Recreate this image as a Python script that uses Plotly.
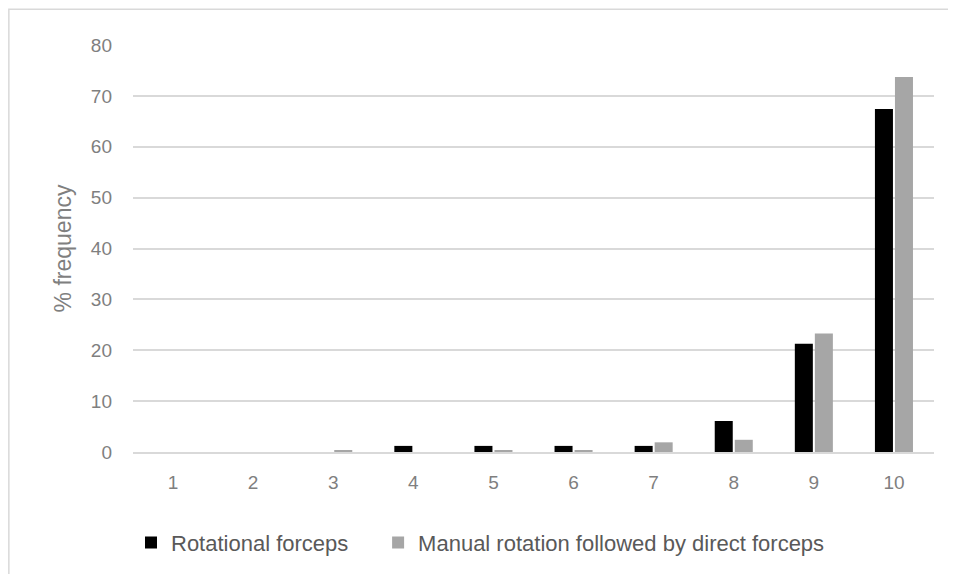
import plotly.graph_objects as go

categories = ["1", "2", "3", "4", "5", "6", "7", "8", "9", "10"]
rotational = [0, 0, 0, 1.2, 1.2, 1.2, 1.2, 6.1, 21.3, 67.4]
manual = [0, 0, 0.4, 0, 0.4, 0.4, 1.9, 2.4, 23.3, 73.7]
y_ticks = [0, 10, 20, 30, 40, 50, 60, 70, 80]

FONT = "Liberation Sans, Arial, sans-serif"

fig = go.Figure()
fig.add_trace(go.Bar(x=categories, y=rotational, name="Rotational forceps",
                     marker=dict(color="#000000", line=dict(width=0)), legend="legend"))
fig.add_trace(go.Bar(x=categories, y=manual, name="Manual rotation followed by direct forceps",
                     marker=dict(color="#a6a6a6", line=dict(width=0)), legend="legend2"))

leg_common = dict(orientation="h", xanchor="left", y=-0.22, yanchor="middle",
                  font=dict(size=22, color="#595959"), bgcolor="rgba(0,0,0,0)")

fig.update_layout(
    width=940, height=566,
    margin=dict(l=125, r=14, t=37, b=121),
    paper_bgcolor="white", plot_bgcolor="white",
    barmode="group", bargap=0.5, bargroupgap=0.1,
    font=dict(family=FONT, color="#595959"),
    showlegend=True,
    legend=dict(x=-0.0025, **leg_common),
    legend2=dict(x=0.306, **leg_common),
    shapes=[dict(type="rect", xref="paper", yref="paper", x0=-0.155, x1=1.2,
                 y0=-0.6, y1=1.088, line=dict(color="#d9d9d9", width=1.5),
                 fillcolor="rgba(0,0,0,0)", layer="below")],
)
fig.update_xaxes(
    type="category", showgrid=False, showline=True, linecolor="#d9d9d9", linewidth=1.5,
    ticks="", tickfont=dict(size=19, color="#7f7f7f"), ticklabelstandoff=12,
)
fig.update_yaxes(
    range=[0, 80], tickvals=y_ticks, showgrid=True, gridcolor="#d9d9d9", gridwidth=1.5,
    zeroline=False, showline=False, ticks="",
    tickfont=dict(size=19, color="#7f7f7f"), ticklabelstandoff=20,
    title=dict(text="% frequency", font=dict(size=23, color="#7f7f7f"), standoff=12),
)

fig.write_html("out.html")
